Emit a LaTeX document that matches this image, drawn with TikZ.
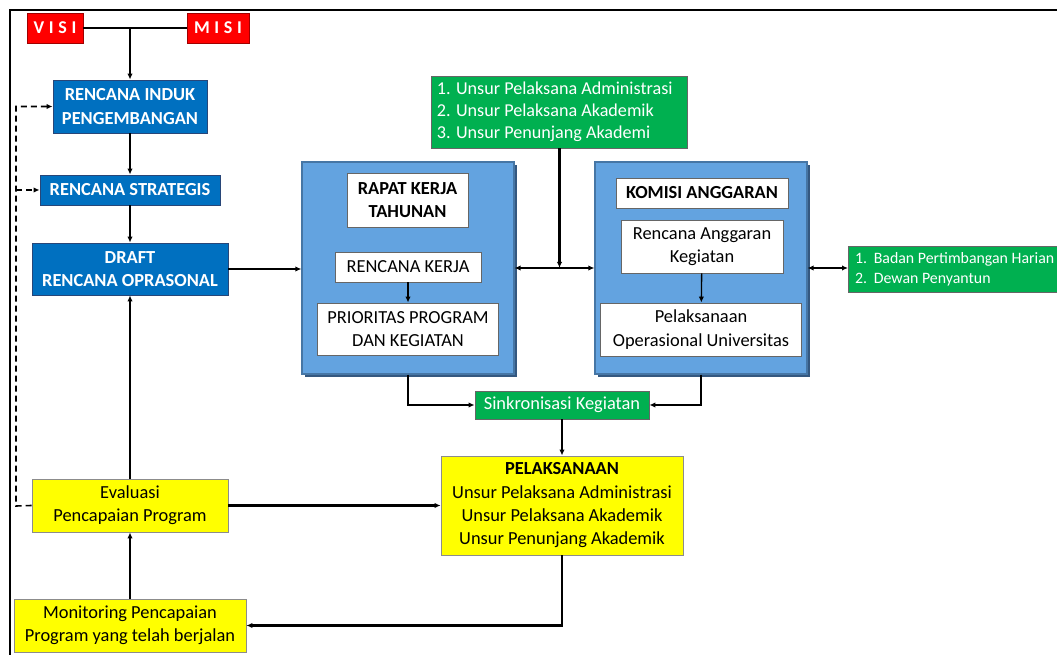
\documentclass[tikz,border=0pt]{standalone}
\usepackage{fontspec}
\setmainfont{Carlito}
\usepackage{tikz}
\usetikzlibrary{arrows.meta, positioning, shadows}
\definecolor{visired}{RGB}{255, 0, 0}
\definecolor{visiedge}{RGB}{160, 0, 0}
\definecolor{planblue}{RGB}{0, 112, 192}
\definecolor{planedge}{RGB}{40, 70, 120}
\definecolor{panelblue}{RGB}{99, 163, 224}
\definecolor{paneledge}{RGB}{70, 118, 165}
\definecolor{panelshadow}{RGB}{52, 88, 128}
\definecolor{unitgreen}{RGB}{0, 176, 80}
\definecolor{evalyellow}{RGB}{255, 255, 0}

\begin{document}
\begin{tikzpicture}[
  x=0.75pt, y=-0.75pt,
  >={Latex[length=4.5pt,width=4pt]},
  txt/.style={font=\fontsize{13.8}{17.5}\selectfont, inner sep=2pt, align=center},
  vmbox/.style={txt, fill=visired, draw=visiedge, line width=0.6pt, text=white,
    font=\fontsize{13.5}{15}\selectfont\bfseries, minimum height=22.5pt},
  planbox/.style={txt, fill=planblue, draw=planedge, line width=0.6pt, text=white,
    font=\fontsize{13.8}{17.5}\selectfont\bfseries},
  evalbox/.style={txt, fill=evalyellow, draw=black!45, line width=0.6pt},
  unitbox/.style={txt, fill=unitgreen, draw=black!60, line width=0.6pt, text=white},
  innerbox/.style={txt, fill=white, draw=black!60, line width=0.6pt},
  panel/.style={fill=panelblue, draw=paneledge, line width=0.8pt,
    general shadow={fill=panelshadow, shadow xshift=2.5pt, shadow yshift=-2.5pt}},
  flow/.style={->, line width=1.6pt},
  subflow/.style={->, line width=1pt},
  fback/.style={->, dash pattern=on 4.5pt off 3pt, line width=1.2pt},
]
  \useasboundingbox (0,0) rectangle (1057,655);
  \clip (0,0) rectangle (1057,655);

  % Frame
  \draw[line width=2.2pt, line join=miter] (10,660) -- (10,10) -- (1060,10);

  % Visi and misi
  \node[vmbox, minimum width=42pt] (visi) at (55,28) {V\hspace{3.5pt}I\hspace{3.5pt}S\hspace{3.5pt}I};
  \node[vmbox, minimum width=46.5pt] (misi) at (218,28) {M\hspace{3.5pt}I\hspace{3.5pt}S\hspace{3.5pt}I};

  % Planning column
  \node[planbox, minimum width=115.5pt, minimum height=39.75pt] (rip) at (130,106.5) {RENCANA INDUK\\PENGEMBANGAN};
  \node[planbox, minimum width=135pt, minimum height=22.5pt] (rs) at (130,190) {RENCANA STRATEGIS};
  \node[planbox, minimum width=147pt, minimum height=39pt] (dro) at (130,269) {DRAFT\\RENCANA OPRASONAL};

  % Evaluation and monitoring
  \node[evalbox, minimum width=147pt, minimum height=39.75pt] (eval) at (130,505.5) {Evaluasi\\Pencapaian Program};
  \node[evalbox, minimum width=174pt, minimum height=39.75pt] (mon) at (130,625.5) {Monitoring Pencapaian\\Program yang telah berjalan};

  % Panels
  \node[panel, minimum width=159pt, minimum height=159pt] (rapat) at (408,268) {};
  \node[panel, minimum width=159pt, minimum height=159pt] (komisi) at (701,268) {};

  % Rapat kerja tahunan
  \node[innerbox, font=\fontsize{13.8}{17.5}\selectfont\bfseries, minimum width=90.75pt, minimum height=40.5pt] (rkttitle) at (407.5,200) {RAPAT KERJA\\TAHUNAN};
  \node[innerbox, minimum width=109.5pt, minimum height=22.5pt] (rk) at (408,267) {RENCANA KERJA};
  \node[innerbox, minimum width=135.75pt, minimum height=39pt] (pp) at (408,329) {PRIORITAS PROGRAM\\DAN KEGIATAN};

  % Komisi anggaran
  \node[innerbox, font=\fontsize{13.8}{17.5}\selectfont\bfseries, minimum width=129pt, minimum height=22.5pt] (katitle) at (702,193) {KOMISI ANGGARAN};
  \node[innerbox, minimum width=121.5pt, minimum height=39.75pt] (rak) at (702,246.5) {Rencana Anggaran\\Kegiatan};
  \node[innerbox, minimum width=150.75pt, minimum height=39.75pt] (pou) at (701,329.5) {Pelaksanaan\\Operasional Universitas};

  % Units
  \node[unitbox, align=flush left, text width=184pt, inner xsep=4pt, minimum height=54pt,
    font=\fontsize{13.6}{16.5}\selectfont] (unsur) at (559.5,112)
    {1. Unsur Pelaksana Administrasi\\2. Unsur Pelaksana Akademik\\3. Unsur Penunjang Akademi};
  \node[unitbox, align=flush left, text width=160pt, inner xsep=5pt, minimum height=34.5pt,
    font=\fontsize{11.9}{15}\selectfont, anchor=west] (bph) at (848,269)
    {1.\hspace{5pt}Badan Pertimbangan Harian\\2.\hspace{5pt}Dewan Penyantun};
  \node[unitbox, minimum width=130.5pt, minimum height=21pt] (sink) at (562,405) {Sinkronisasi Kegiatan};

  % Pelaksanaan
  \node[evalbox, minimum width=181.5pt, minimum height=74.25pt] (pel) at (562,505.5)
    {\textbf{PELAKSANAAN}\\Unsur Pelaksana Administrasi\\Unsur Pelaksana Akademik\\Unsur Penunjang Akademik};

  % Connectors
  \draw[line width=1.6pt] (visi) -- (misi);
  \draw[flow] (rip.north |- visi.east) -- (rip.north);
  \draw[flow] (rip) -- (rs);
  \draw[flow] (rs) -- (dro);
  \draw[flow] (dro.east) -- (dro.east -| rapat.west);
  \draw[flow] (eval) -- (dro);
  \draw[flow] (mon) -- (eval);
  \draw[flow] (eval.east) -- (eval.east -| pel.west);
  \draw[flow] (pel.south) |- (mon.east);
  \draw[subflow] (rk) -- (pp);
  \draw[subflow] (rak) -- (pou);
  \draw[flow] (rapat.south) |- (sink.west);
  \draw[flow] (komisi.south) |- (sink.east);
  \draw[subflow] (sink) -- (pel);
  \draw[flow, <->] (rapat.east) -- (komisi.west);
  \draw[flow] (unsur.south) -- (unsur.south |- rapat.east);
  \draw[flow, <->] (komisi.east) -- (komisi.east -| bph.west);

  % Feedback
  \coordinate (fbk) at (16,506);
  \draw[fback] (eval.west) -- (fbk) |- (rip.west);
  \draw[fback] (fbk |- rs.west) -- (rs.west);

\end{tikzpicture}
\end{document}
